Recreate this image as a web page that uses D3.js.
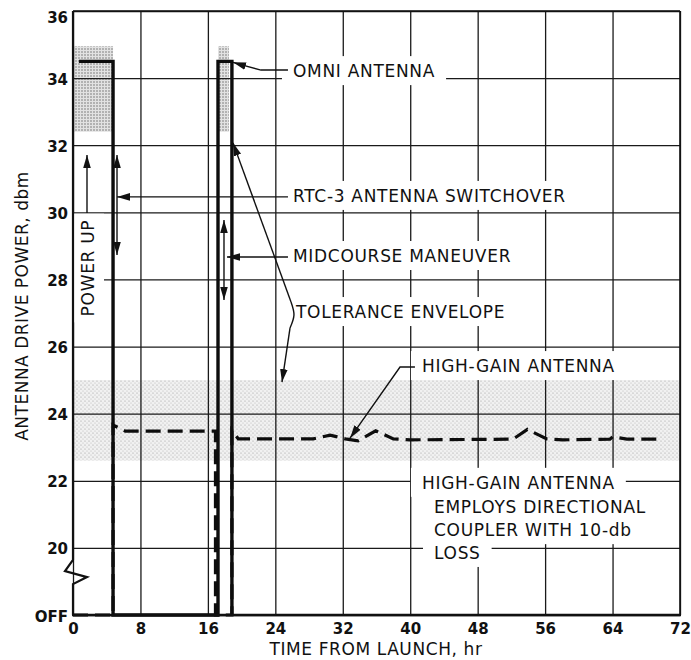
<!DOCTYPE html>
<html>
<head>
<meta charset="utf-8">
<script src="https://cdn.jsdelivr.net/npm/d3@7"></script>
<style>
body { margin: 0; background: #fff; }
svg { display: block; }
</style>
</head>
<body>
<div id="chart"></div>
<script>
// values
var xTicks = [0, 8, 16, 24, 32, 40, 48, 56, 64, 72];
var yTicks = [18, 20, 22, 24, 26, 28, 30, 32, 34, 36];
var yTickLabels = ["OFF", "20", "22", "24", "26", "28", "30", "32", "34", "36"];
var OFF = 18;

// omni antenna (solid)
var omniHours = [0.7, 4.75, 4.75, 17.2, 17.2, 18.85, 18.85];
var omniPower = [34.5, 34.5, 18, 18, 34.5, 34.5, 18];

// high-gain antenna (dashed)
var highGainHours = [0, 4.75, 4.75, 6.2, 16.9, 16.9, 18.85, 18.85, 19.6, 28.5, 30.5, 32.3, 33.8, 35.9, 38, 40, 52.2, 53.9, 56.2, 58.1, 63.7, 64.0, 65.7, 70];
var highGainPower = [18, 18, 23.66, 23.48, 23.48, 18, 18, 23.5, 23.25, 23.25, 23.36, 23.25, 23.19, 23.49, 23.25, 23.22, 23.24, 23.53, 23.25, 23.22, 23.24, 23.31, 23.24, 23.24];

// tolerance envelopes
var envStart = [0, 17.2, 0];
var envEnd = [4.75, 18.5, 72];
var envLow = [32.4, 32.4, 22.6];
var envHigh = [34.95, 34.95, 25.0];
var envKind = ["omni", "omni", "high"];

// annotations (hours, dbm)
var labelText = ["OMNI ANTENNA", "RTC-3 ANTENNA SWITCHOVER", "MIDCOURSE MANEUVER", "TOLERANCE ENVELOPE",
    "HIGH-GAIN ANTENNA", "HIGH-GAIN ANTENNA", "EMPLOYS DIRECTIONAL", "COUPLER WITH 10-db", "LOSS"];
var labelHour = [26.09, 26.09, 26.09, 26.45, 41.39, 41.39, 42.82, 42.82, 42.82];
var labelPower = [34.03, 30.31, 28.52, 26.85, 25.24, 21.76, 21.04, 20.35, 19.67];

var leaders = [
    {pts: [[25.5, 34.24], [22.3, 34.24], [19.9, 34.40], [18.98, 34.47]], head: "end"},
    {pts: [[25.5, 30.46], [5.22, 30.46]], head: "end"},
    {pts: [[5.22, 28.73], [5.22, 31.71]], head: "both"},
    {pts: [[1.66, 29.98], [1.66, 31.71]], head: "end"},
    {pts: [[17.91, 27.39], [17.91, 29.77]], head: "both"},
    {pts: [[25.5, 28.67], [18.27, 28.67]], head: "end"},
    {pts: [[25.86, 27.33], [18.98, 32.07]], head: "end"},
    {pts: [[25.86, 27.33], [26.21, 26.94], [25.74, 26.55]], head: "none"},
    {pts: [[25.74, 26.55], [24.79, 24.94]], head: "end"},
    {pts: [[40.56, 25.39], [38.79, 25.39], [32.86, 23.27]], head: "end"}
];

var W = 691, H = 660;
var FONT = "'DejaVu Sans', sans-serif";

var svg = d3.select("#chart").append("svg")
    .attr("width", W)
    .attr("height", H)
    .style("font-family", FONT);

var x = d3.scaleLinear().domain([0, 72]).range([73, 680]);
var y = d3.scaleLinear().domain([18, 36]).range([615, 11]);

// stipple patterns
var defs = svg.append("defs");
var pd = defs.append("pattern").attr("id", "stippleDense")
    .attr("width", 3).attr("height", 3).attr("patternUnits", "userSpaceOnUse");
pd.append("rect").attr("width", 3).attr("height", 3).attr("fill", "#e2e2e2");
pd.append("circle").attr("cx", 1).attr("cy", 1).attr("r", 0.75).attr("fill", "#6a6a6a");
var pl = defs.append("pattern").attr("id", "stippleLight")
    .attr("width", 4).attr("height", 4).attr("patternUnits", "userSpaceOnUse");
pl.append("rect").attr("width", 4).attr("height", 4).attr("fill", "#f1f1f1");
pl.append("circle").attr("cx", 1).attr("cy", 1).attr("r", 0.6).attr("fill", "#9a9a9a");
pl.append("circle").attr("cx", 3).attr("cy", 3).attr("r", 0.5).attr("fill", "#b0b0b0");

defs.append("marker").attr("id", "head")
    .attr("viewBox", "0 -5 14 10")
    .attr("refX", 13).attr("refY", 0)
    .attr("markerUnits", "userSpaceOnUse")
    .attr("markerWidth", 14).attr("markerHeight", 10)
    .attr("orient", "auto-start-reverse")
    .append("path").attr("d", "M0,-3.8L13,0L0,3.8Z").attr("fill", "#111");

// envelopes
svg.append("g").selectAll("rect")
    .data(envStart)
    .enter().append("rect")
    .attr("x", function(d, i) { return x(envStart[i]); })
    .attr("width", function(d, i) { return x(envEnd[i]) - x(envStart[i]); })
    .attr("y", function(d, i) { return y(envHigh[i]); })
    .attr("height", function(d, i) { return y(envLow[i]) - y(envHigh[i]); })
    .attr("fill", function(d, i) { return envKind[i] == "omni" ? "url(#stippleDense)" : "url(#stippleLight)"; });

// grid
var gx = svg.append("g")
    .attr("transform", "translate(0," + y(OFF) + ")")
    .call(d3.axisBottom(x).tickValues(xTicks).tickSize(-(y(OFF) - y(36))).tickPadding(8));
gx.select(".domain").remove();
gx.attr("font-family", FONT).attr("font-size", 15).attr("font-weight", "bold");
gx.selectAll(".tick line").attr("stroke", "#1a1a1a").attr("stroke-width", 1.3);
gx.selectAll(".tick text").attr("fill", "#111");

var gy = svg.append("g")
    .attr("transform", "translate(" + x(0) + ",0)")
    .call(d3.axisLeft(y).tickValues(yTicks).tickSize(-(x(72) - x(0))).tickPadding(5)
        .tickFormat(function(d, i) { return yTickLabels[i]; }));
gy.select(".domain").remove();
gy.attr("font-family", FONT).attr("font-size", 15).attr("font-weight", "bold");
gy.selectAll(".tick line").attr("stroke", "#1a1a1a").attr("stroke-width", 1.3);
gy.selectAll(".tick text").attr("fill", "#111")
    .attr("dy", function(d) { return d == 36 ? "0.75em" : "0.4em"; });

// label text layer (measured first so white patches can break the grid)
var bgLayer = svg.append("g");
var seriesLayer = svg.append("g");
var leaderLayer = svg.append("g");
var textLayer = svg.append("g")
    .attr("font-size", 17)
    .attr("fill", "#111")
    .style("letter-spacing", "0.7px");

var labels = textLayer.selectAll("text")
    .data(labelText)
    .enter().append("text")
    .attr("x", function(d, i) { return x(labelHour[i]); })
    .attr("y", function(d, i) { return y(labelPower[i]); })
    .text(function(d) { return d; });

var powerUp = textLayer.append("text")
    .attr("text-anchor", "middle")
    .attr("dominant-baseline", "central")
    .attr("transform", "translate(" + x(1.78) + "," + y(28.34) + ")rotate(-90)")
    .text("POWER UP");

labels.each(function() {
    var b = this.getBBox();
    bgLayer.append("rect")
        .attr("x", b.x - 11).attr("y", b.y - 5)
        .attr("width", b.width + 22).attr("height", b.height + 9)
        .attr("fill", "#fff");
});
var pb = powerUp.node().getBBox();
bgLayer.append("rect")
    .attr("x", x(1.78) - pb.height / 2 - 6)
    .attr("y", y(28.34) - pb.width / 2 - 6)
    .attr("width", pb.height + 12)
    .attr("height", pb.width + 12)
    .attr("fill", "#fff");

// frame
var frame = svg.append("g").attr("fill", "none").attr("stroke", "#111");
frame.append("line").attr("x1", x(0)).attr("x2", x(72)).attr("y1", y(36)).attr("y2", y(36)).attr("stroke-width", 1.6);
frame.append("line").attr("x1", x(72)).attr("x2", x(72)).attr("y1", y(36)).attr("y2", y(OFF)).attr("stroke-width", 1.6);
frame.append("line").attr("x1", x(0) - 1).attr("x2", x(72) + 1).attr("y1", y(OFF)).attr("y2", y(OFF)).attr("stroke-width", 2.6);
frame.append("path")
    .attr("stroke-width", 2.2)
    .attr("d", "M" + x(0) + "," + y(36) +
        "L" + x(0) + "," + y(19.64) +
        "L" + (x(0) - 8) + "," + y(19.31) +
        "L" + (x(0) + 14) + "," + y(19.13) +
        "L" + x(0) + "," + y(18.92) +
        "L" + x(0) + "," + y(OFF));

// series
var line = d3.line()
    .x(function(d) { return x(d[0]); })
    .y(function(d) { return y(d[1]); });

seriesLayer.append("path")
    .datum(omniHours.map(function(h, i) { return [h, omniPower[i]]; }))
    .attr("d", line)
    .attr("fill", "none")
    .attr("stroke", "#0d0d0d")
    .attr("stroke-width", 3.4)
    .attr("stroke-linejoin", "miter");

seriesLayer.append("path")
    .datum(highGainHours.map(function(h, i) { return [h, highGainPower[i]]; }))
    .attr("d", line)
    .attr("fill", "none")
    .attr("stroke", "#0d0d0d")
    .attr("stroke-width", 3.2)
    .attr("stroke-dasharray", "15,7");

// leaders
leaders.forEach(function(l) {
    var p = leaderLayer.append("path")
        .datum(l.pts)
        .attr("d", l.head == "none" ? line.curve(d3.curveNatural) : line.curve(d3.curveLinear))
        .attr("fill", "none")
        .attr("stroke", "#111")
        .attr("stroke-width", 1.4);
    line.curve(d3.curveLinear);
    if (l.head == "end" || l.head == "both") p.attr("marker-end", "url(#head)");
    if (l.head == "both") p.attr("marker-start", "url(#head)");
});

// axis titles
svg.append("text")
    .attr("x", 376).attr("y", 655)
    .attr("text-anchor", "middle")
    .attr("font-size", 17)
    .attr("fill", "#111")
    .style("letter-spacing", "0.6px")
    .text("TIME FROM LAUNCH, hr");

svg.append("text")
    .attr("text-anchor", "middle")
    .attr("transform", "translate(28,306)rotate(-90)")
    .attr("font-size", 17)
    .attr("fill", "#111")
    .style("letter-spacing", "0.5px")
    .text("ANTENNA DRIVE POWER, dbm");
</script>
</body>
</html>
